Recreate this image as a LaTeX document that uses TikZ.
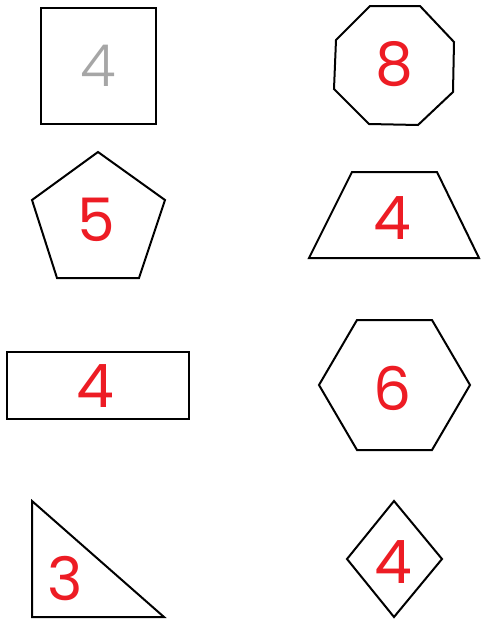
\documentclass[tikz,border=0pt]{standalone}
\usepackage{fontspec}
\setmainfont{Poppins}
\usetikzlibrary{calc,positioning}
\definecolor{numred}{RGB}{237,28,36}
\tikzset{
  shapeline/.style={draw=black,line width=2pt,line join=miter},
  digit/.style={text=numred,inner sep=0pt,font=\fontsize{60}{60}\selectfont},
  tracedigit/.style={text=black!35,inner sep=0pt,font=\fontsize{58}{58}\selectfont\fontspec{Poppins Light}}
}
\begin{document}
\begin{tikzpicture}[x=1pt,y=-1pt,line cap=round]
    \useasboundingbox (0,0) rectangle (482,624);
    % left column
    \draw[shapeline,line width=2.4pt] (41,8) rectangle (156,124);
    \node[tracedigit] (sq) at (98,66) {4};
    \draw[shapeline] (98,152)--(165,200)--(139,278)--(57,278)--(32,200)--cycle;
    \node[digit] (pent) at (96,220) {5};
    \draw[shapeline] (7,352) rectangle (189,419);
    \node[digit] (rect) at (95,386) {4};
    \draw[shapeline] (32,501)--(32,617)--(164,617)--cycle;
    \node[digit] (tri) at (65,579) {3};
    % right column
    \draw[shapeline] (370,6)--(420,6)--(454,42)--(453,92)--(418,125)--(369,124)--(334,89)--(336,40)--cycle;
    \node[digit] (oct) at (394,64) {8};
    \draw[shapeline] (352,172)--(437,172)--(479,258)--(309,258)--cycle;
    \node[digit] (trap) at (392,218) {4};
    \draw[shapeline] (357,320)--(432,320)--(470,385)--(432,450)--(357,450)--(319,385)--cycle;
    \node[digit] (hex) at (393,388) {6};
    \draw[shapeline] (394,501)--(442,559)--(394,617)--(347,559)--cycle;
    \node[digit] (dia) at (393,562) {4};
  \end{tikzpicture}
\end{document}
